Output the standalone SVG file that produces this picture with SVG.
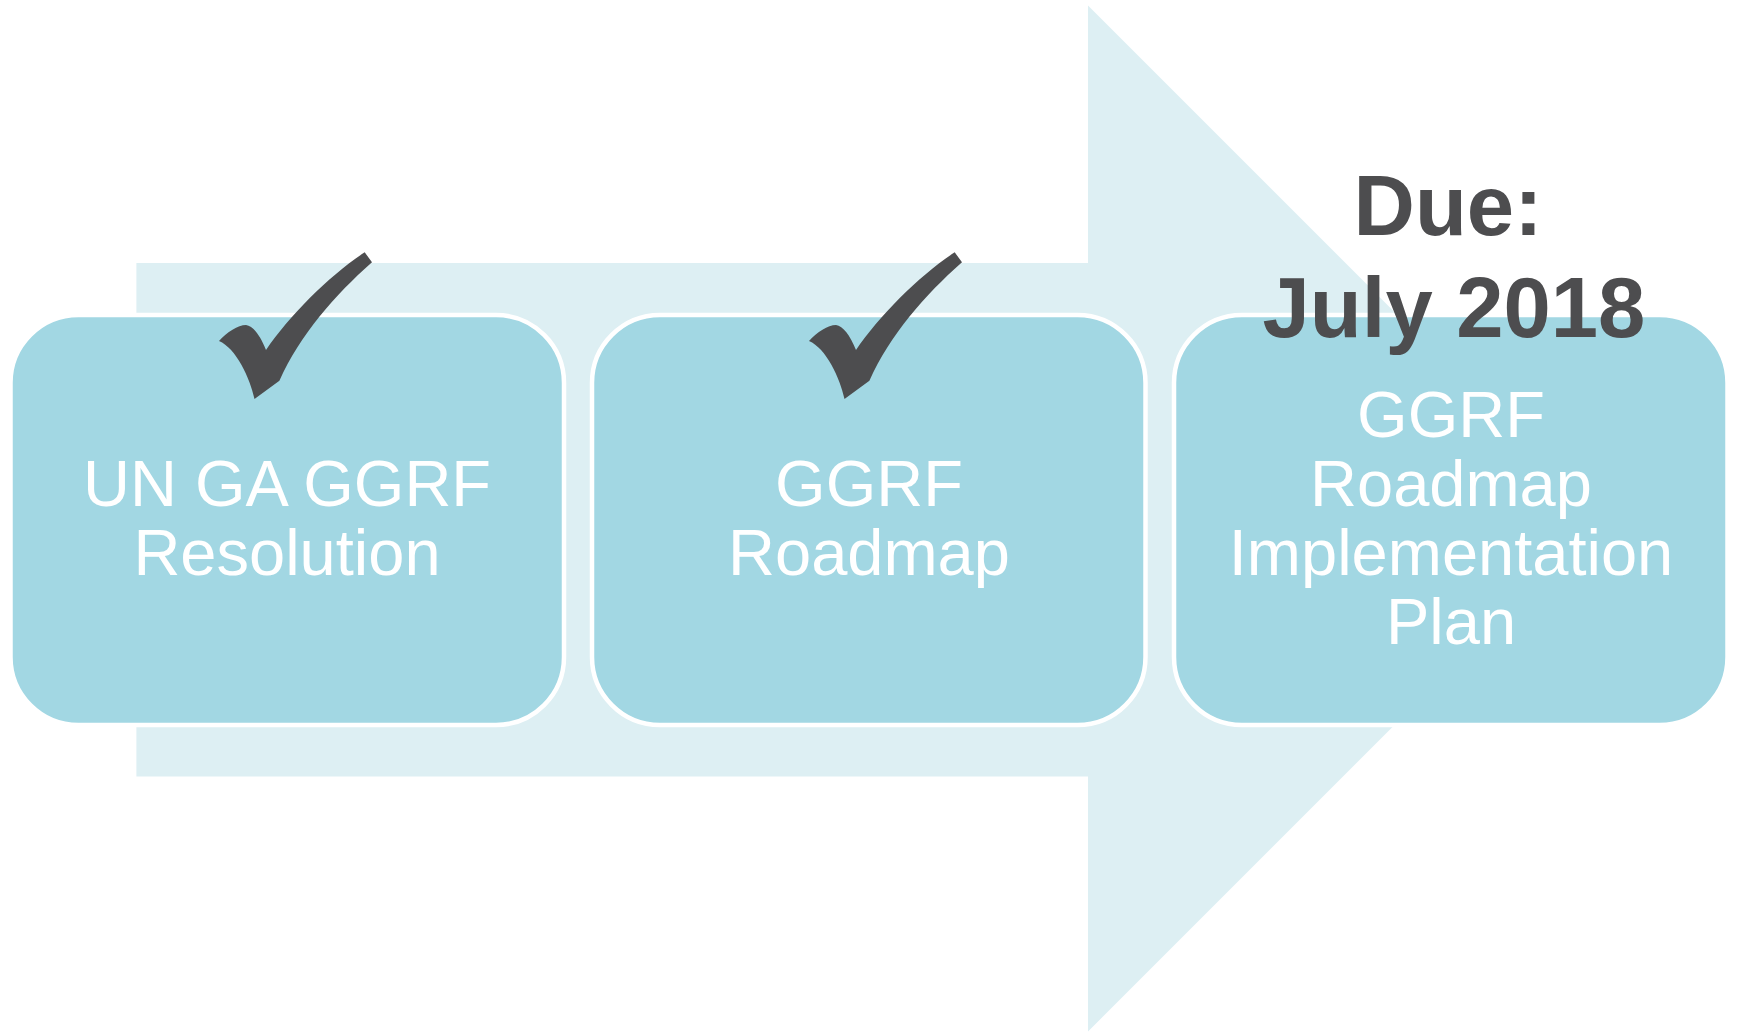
<svg xmlns="http://www.w3.org/2000/svg" width="1739" height="1034" viewBox="0 0 1739 1034">
<defs>
<style>
.box{fill:#A2D7E3;stroke:#FFFFFF;stroke-width:4.5}
.lbl{font-family:"Liberation Sans",Arial,sans-serif;font-size:65px;fill:#FFFFFF;text-anchor:middle}
.due{font-family:"Liberation Sans",Arial,sans-serif;font-size:85px;font-weight:bold;fill:#4D4D4F;text-anchor:middle}
.chk{fill:#4D4D4F}
</style>
<path id="check" d="M364.7 252.3 L372 262.3 C335 295 300 335 279.4 380.7 L254.5 399 C250 378 236 348 219 341 C227 332 238 325 246 325 C253 326 260 335 266 350 C290 315 330 275 364.7 252.3 Z"/>
</defs>
<rect width="1739" height="1034" fill="#FFFFFF"/>
<g id="arrow">
<polygon points="136.4,263 1088,263 1088,5.5 1601,518.5 1088,1031.5 1088,776.5 136.4,776.5" fill="#DDEFF3"/>
</g>
<g id="connectors"></g>
<g id="node1">
<rect class="box" x="10.5" y="315" width="553.5" height="410" rx="68" ry="68"/>
<text class="lbl" x="287" y="506">UN GA GGRF</text>
<text class="lbl" x="287" y="575">Resolution</text>
<use href="#check" class="chk"/>
</g>
<g id="node2">
<rect class="box" x="592" y="315" width="553.5" height="410" rx="68" ry="68"/>
<text class="lbl" x="869" y="506">GGRF</text>
<text class="lbl" x="869" y="575">Roadmap</text>
<use href="#check" class="chk" transform="translate(590,0)"/>
</g>
<g id="node3">
<rect class="box" x="1174" y="315" width="553.5" height="410" rx="68" ry="68"/>
<text class="lbl" x="1451" y="437">GGRF</text>
<text class="lbl" x="1451" y="506">Roadmap</text>
<text class="lbl" x="1451" y="575">Implementation</text>
<text class="lbl" x="1451" y="644">Plan</text>
</g>
<g id="due">
<text class="due" x="1448" y="235">Due:</text>
<text class="due" x="1454" y="337">July 2018</text>
</g>
</svg>
